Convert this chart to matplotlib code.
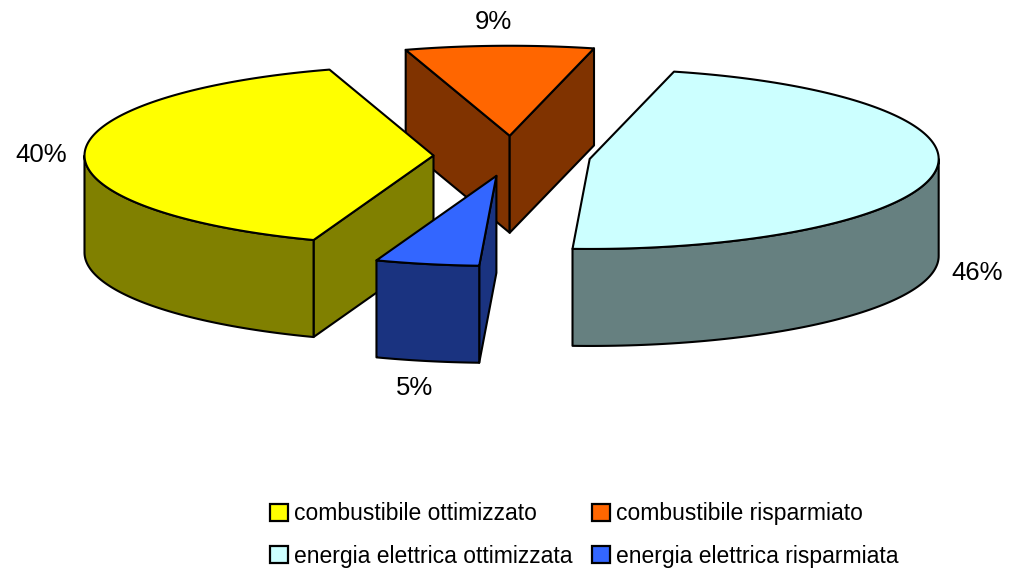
import numpy as np
import matplotlib
matplotlib.use("Agg")
import matplotlib.pyplot as plt
from matplotlib.patches import Patch, Polygon

labels = ["combustibile ottimizzato", "combustibile risparmiato",
          "energia elettrica ottimizzata", "energia elettrica risparmiata"]
values = [39.6, 8.7, 46.9, 4.8]
pct_labels = ["40%", "9%", "46%", "5%"]
colors = ["#FFFF00", "#FF6600", "#CCFFFF", "#3366FF"]
wall_colors = ["#808000", "#803300", "#668080", "#1A3380"]

first_angle = 200.1   # clockwise from the top
cx, cy = 512, 156
rx, ry = 349, 90
depth = 97
explode = 0.225
label_pos = [(41.5, 155), (493, 22), (977.5, 273), (414.5, 388)]

plt.rcParams["font.family"] = ["Liberation Sans"]

fig = plt.figure(figsize=(10.23, 5.73), dpi=100)
ax = fig.add_axes([0, 0, 1, 1])
ax.set_xlim(0, 1023)
ax.set_ylim(573, 0)
ax.axis("off")


def rim(x0, y0, theta):
    t = np.radians(theta)
    return np.column_stack([x0 + rx * np.sin(t), y0 - ry * np.cos(t)])


def draw_slice(start, sweep, top, wall):
    end = start + sweep
    mid = np.radians(start + sweep / 2)
    x0 = cx + explode * rx * np.sin(mid)
    y0 = cy - explode * ry * np.cos(mid)
    apex = np.array([[x0, y0]])
    drop = np.array([0, depth])
    style = dict(edgecolor="black", linewidth=1.5, joinstyle="round")

    # radial walls, only when they face the viewer
    for theta, visible in ((start, np.sin(np.radians(start)) < 0),
                           (end, np.sin(np.radians(end)) > 0)):
        if visible:
            p = rim(x0, y0, np.array([theta]))
            ax.add_patch(Polygon(np.vstack([apex, p, p + drop, apex + drop]),
                                 facecolor=wall, **style))

    # outer wall: front part of the arc
    for k in (0, 360):
        a0, a1 = max(start, 90 + k), min(end, 270 + k)
        if a1 > a0:
            p = rim(x0, y0, np.linspace(a0, a1, 80))
            ax.add_patch(Polygon(np.vstack([p, (p + drop)[::-1]]),
                                 facecolor=wall, **style))

    arc = rim(x0, y0, np.linspace(start, end, 160))
    ax.add_patch(Polygon(np.vstack([apex, arc]), facecolor=top, **style))


starts = first_angle + np.cumsum([0] + [v * 3.6 for v in values[:-1]])
for i in [1, 0, 2, 3]:
    draw_slice(starts[i], values[i] * 3.6, colors[i], wall_colors[i])

for (x, y), s in zip(label_pos, pct_labels):
    ax.text(x, y, s, fontsize=18.5, ha="center", va="center", color="black")

# column-first order for the legend
order = [0, 2, 1, 3]
handles = [Patch(facecolor=colors[i], edgecolor="black", linewidth=1.6) for i in order]
leg = ax.legend(handles, [labels[i] for i in order], ncol=2, frameon=False,
                loc="center", bbox_to_anchor=(584 / 1023, 1 - 535 / 573),
                prop={"size": 16.5},
                handlelength=0.78, handleheight=0.78, handletextpad=0.26,
                columnspacing=0.87, labelspacing=0.83, borderpad=0)

fig.savefig("out.png", dpi=100)
